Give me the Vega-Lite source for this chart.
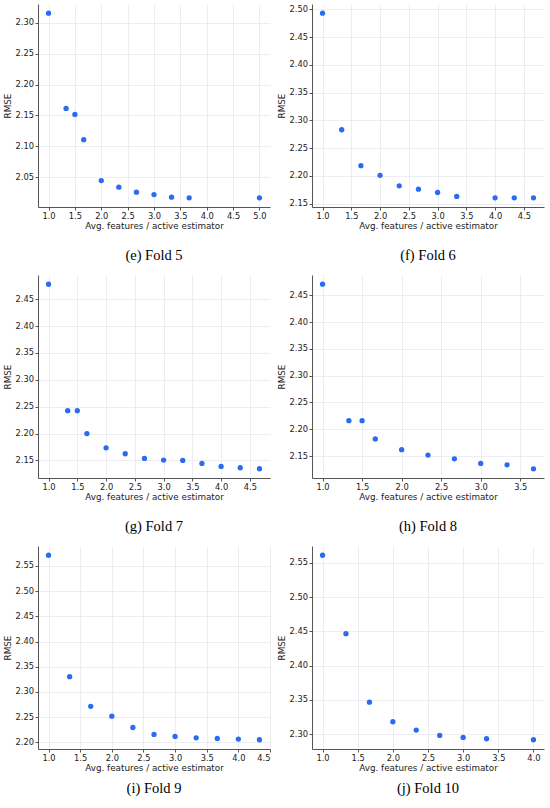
{
  "$schema": "https://vega.github.io/schema/vega-lite/v6.json",
  "padding": {"left": 3, "top": 4, "right": 4, "bottom": 4},
  "background": "white",
  "data": {
    "values": [
      {"fold": 5, "feat": 1.0, "rmse": 2.3155},
      {"fold": 5, "feat": 1.333, "rmse": 2.1613},
      {"fold": 5, "feat": 1.5, "rmse": 2.1516},
      {"fold": 5, "feat": 1.667, "rmse": 2.1108},
      {"fold": 5, "feat": 2.0, "rmse": 2.0446},
      {"fold": 5, "feat": 2.333, "rmse": 2.0339},
      {"fold": 5, "feat": 2.667, "rmse": 2.0258},
      {"fold": 5, "feat": 3.0, "rmse": 2.022},
      {"fold": 5, "feat": 3.333, "rmse": 2.0177},
      {"fold": 5, "feat": 3.667, "rmse": 2.0167},
      {"fold": 5, "feat": 5.0, "rmse": 2.0167},
      {"fold": 6, "feat": 1.0, "rmse": 2.4928},
      {"fold": 6, "feat": 1.333, "rmse": 2.2832},
      {"fold": 6, "feat": 1.667, "rmse": 2.2186},
      {"fold": 6, "feat": 2.0, "rmse": 2.2012},
      {"fold": 6, "feat": 2.333, "rmse": 2.1823},
      {"fold": 6, "feat": 2.667, "rmse": 2.1763},
      {"fold": 6, "feat": 3.0, "rmse": 2.1703},
      {"fold": 6, "feat": 3.333, "rmse": 2.1632},
      {"fold": 6, "feat": 4.0, "rmse": 2.1608},
      {"fold": 6, "feat": 4.333, "rmse": 2.1608},
      {"fold": 6, "feat": 4.667, "rmse": 2.1608},
      {"fold": 7, "feat": 1.0, "rmse": 2.4778},
      {"fold": 7, "feat": 1.333, "rmse": 2.2426},
      {"fold": 7, "feat": 1.5, "rmse": 2.2426},
      {"fold": 7, "feat": 1.667, "rmse": 2.2},
      {"fold": 7, "feat": 2.0, "rmse": 2.1734},
      {"fold": 7, "feat": 2.333, "rmse": 2.1624},
      {"fold": 7, "feat": 2.667, "rmse": 2.1537},
      {"fold": 7, "feat": 3.0, "rmse": 2.1506},
      {"fold": 7, "feat": 3.333, "rmse": 2.15},
      {"fold": 7, "feat": 3.667, "rmse": 2.1444},
      {"fold": 7, "feat": 4.0, "rmse": 2.1389},
      {"fold": 7, "feat": 4.333, "rmse": 2.1364},
      {"fold": 7, "feat": 4.667, "rmse": 2.1345},
      {"fold": 8, "feat": 1.0, "rmse": 2.4705},
      {"fold": 8, "feat": 1.333, "rmse": 2.2161},
      {"fold": 8, "feat": 1.5, "rmse": 2.2161},
      {"fold": 8, "feat": 1.667, "rmse": 2.182},
      {"fold": 8, "feat": 2.0, "rmse": 2.1621},
      {"fold": 8, "feat": 2.333, "rmse": 2.1519},
      {"fold": 8, "feat": 2.667, "rmse": 2.145},
      {"fold": 8, "feat": 3.0, "rmse": 2.1363},
      {"fold": 8, "feat": 3.333, "rmse": 2.1338},
      {"fold": 8, "feat": 3.667, "rmse": 2.1264},
      {"fold": 9, "feat": 1.0, "rmse": 2.5711},
      {"fold": 9, "feat": 1.333, "rmse": 2.3303},
      {"fold": 9, "feat": 1.667, "rmse": 2.2717},
      {"fold": 9, "feat": 2.0, "rmse": 2.252},
      {"fold": 9, "feat": 2.333, "rmse": 2.2296},
      {"fold": 9, "feat": 2.667, "rmse": 2.2158},
      {"fold": 9, "feat": 3.0, "rmse": 2.2119},
      {"fold": 9, "feat": 3.333, "rmse": 2.2092},
      {"fold": 9, "feat": 3.667, "rmse": 2.2079},
      {"fold": 9, "feat": 4.0, "rmse": 2.2066},
      {"fold": 9, "feat": 4.333, "rmse": 2.2053},
      {"fold": 10, "feat": 1.0, "rmse": 2.5612},
      {"fold": 10, "feat": 1.333, "rmse": 2.4466},
      {"fold": 10, "feat": 1.667, "rmse": 2.3466},
      {"fold": 10, "feat": 2.0, "rmse": 2.318},
      {"fold": 10, "feat": 2.333, "rmse": 2.3058},
      {"fold": 10, "feat": 2.667, "rmse": 2.2981},
      {"fold": 10, "feat": 3.0, "rmse": 2.2951},
      {"fold": 10, "feat": 3.333, "rmse": 2.2932},
      {"fold": 10, "feat": 4.0, "rmse": 2.2917}
    ]
  },
  "columns": 2,
  "spacing": {"column": 6, "row": 12},
  "concat": [
    {
      "title": {"text": "(e) Fold 5"},
      "transform": [{"filter": "datum.fold == 5"}],
      "width": 232,
      "height": 203,
      "mark": {"type": "circle", "size": 28, "opacity": 1, "color": "#2a6bf2"},
      "encoding": {
        "x": {"field": "feat", "type": "quantitative", "title": "Avg. features / active estimator",
              "scale": {"domain": [0.8, 5.2], "nice": false, "zero": false},
              "axis": {"values": [1, 1.5, 2, 2.5, 3, 3.5, 4, 4.5, 5], "format": ".1f"}},
        "y": {"field": "rmse", "type": "quantitative", "title": "RMSE",
              "scale": {"domain": [2.0018, 2.3304], "nice": false, "zero": false},
              "axis": {"values": [2.05, 2.1, 2.15, 2.2, 2.25, 2.3], "format": ".2f"}}
      }
    },
    {
      "title": {"text": "(f) Fold 6"},
      "transform": [{"filter": "datum.fold == 6"}],
      "width": 232,
      "height": 203,
      "mark": {"type": "circle", "size": 28, "opacity": 1, "color": "#2a6bf2"},
      "encoding": {
        "x": {"field": "feat", "type": "quantitative", "title": "Avg. features / active estimator",
              "scale": {"domain": [0.8167, 4.85], "nice": false, "zero": false},
              "axis": {"values": [1, 1.5, 2, 2.5, 3, 3.5, 4, 4.5], "format": ".1f"}},
        "y": {"field": "rmse", "type": "quantitative", "title": "RMSE",
              "scale": {"domain": [2.1442, 2.5094], "nice": false, "zero": false},
              "axis": {"values": [2.15, 2.2, 2.25, 2.3, 2.35, 2.4, 2.45, 2.5], "format": ".2f"}}
      }
    },
    {
      "title": {"text": "(g) Fold 7"},
      "transform": [{"filter": "datum.fold == 7"}],
      "width": 232,
      "height": 203,
      "mark": {"type": "circle", "size": 28, "opacity": 1, "color": "#2a6bf2"},
      "encoding": {
        "x": {"field": "feat", "type": "quantitative", "title": "Avg. features / active estimator",
              "scale": {"domain": [0.8167, 4.85], "nice": false, "zero": false},
              "axis": {"values": [1, 1.5, 2, 2.5, 3, 3.5, 4, 4.5], "format": ".1f"}},
        "y": {"field": "rmse", "type": "quantitative", "title": "RMSE",
              "scale": {"domain": [2.1173, 2.495], "nice": false, "zero": false},
              "axis": {"values": [2.15, 2.2, 2.25, 2.3, 2.35, 2.4, 2.45], "format": ".2f"}}
      }
    },
    {
      "title": {"text": "(h) Fold 8"},
      "transform": [{"filter": "datum.fold == 8"}],
      "width": 232,
      "height": 203,
      "mark": {"type": "circle", "size": 28, "opacity": 1, "color": "#2a6bf2"},
      "encoding": {
        "x": {"field": "feat", "type": "quantitative", "title": "Avg. features / active estimator",
              "scale": {"domain": [0.8667, 3.8], "nice": false, "zero": false},
              "axis": {"values": [1, 1.5, 2, 2.5, 3, 3.5], "format": ".1f"}},
        "y": {"field": "rmse", "type": "quantitative", "title": "RMSE",
              "scale": {"domain": [2.1092, 2.4877], "nice": false, "zero": false},
              "axis": {"values": [2.15, 2.2, 2.25, 2.3, 2.35, 2.4, 2.45], "format": ".2f"}}
      }
    },
    {
      "title": {"text": "(i) Fold 9", "offset": 9},
      "transform": [{"filter": "datum.fold == 9"}],
      "width": 232,
      "height": 203,
      "mark": {"type": "circle", "size": 28, "opacity": 1, "color": "#2a6bf2"},
      "encoding": {
        "x": {"field": "feat", "type": "quantitative", "title": "Avg. features / active estimator",
              "scale": {"domain": [0.8333, 4.5], "nice": false, "zero": false},
              "axis": {"values": [1, 1.5, 2, 2.5, 3, 3.5, 4, 4.5], "format": ".1f"}},
        "y": {"field": "rmse", "type": "quantitative", "title": "RMSE",
              "scale": {"domain": [2.187, 2.5894], "nice": false, "zero": false},
              "axis": {"values": [2.2, 2.25, 2.3, 2.35, 2.4, 2.45, 2.5, 2.55], "format": ".2f"}}
      }
    },
    {
      "title": {"text": "(j) Fold 10", "offset": 9},
      "transform": [{"filter": "datum.fold == 10"}],
      "width": 232,
      "height": 203,
      "mark": {"type": "circle", "size": 28, "opacity": 1, "color": "#2a6bf2"},
      "encoding": {
        "x": {"field": "feat", "type": "quantitative", "title": "Avg. features / active estimator",
              "scale": {"domain": [0.85, 4.15], "nice": false, "zero": false},
              "axis": {"values": [1, 1.5, 2, 2.5, 3, 3.5, 4], "format": ".1f"}},
        "y": {"field": "rmse", "type": "quantitative", "title": "RMSE",
              "scale": {"domain": [2.2782, 2.5747], "nice": false, "zero": false},
              "axis": {"values": [2.3, 2.35, 2.4, 2.45, 2.5, 2.55], "format": ".2f"}}
      }
    }
  ],
  "config": {
    "view": {"stroke": null},
    "title": {
      "orient": "bottom",
      "anchor": "middle",
      "font": "Liberation Serif",
      "fontSize": 14.5,
      "fontWeight": "normal",
      "color": "#000000",
      "offset": 18
    },
    "axis": {
      "labelFont": "DejaVu Sans",
      "labelFontSize": 8.3,
      "labelColor": "#222222",
      "titleFont": "DejaVu Sans",
      "titleFontSize": 8.8,
      "titleFontWeight": "normal",
      "titleColor": "#222222",
      "domainColor": "#555555",
      "tickColor": "#555555",
      "tickSize": 3,
      "labelPadding": 1.5,
      "gridColor": "#e8eaf0",
      "gridWidth": 0.8
    },
    "axisY": {"titlePadding": 3},
    "axisX": {"titlePadding": 2}
  }
}
